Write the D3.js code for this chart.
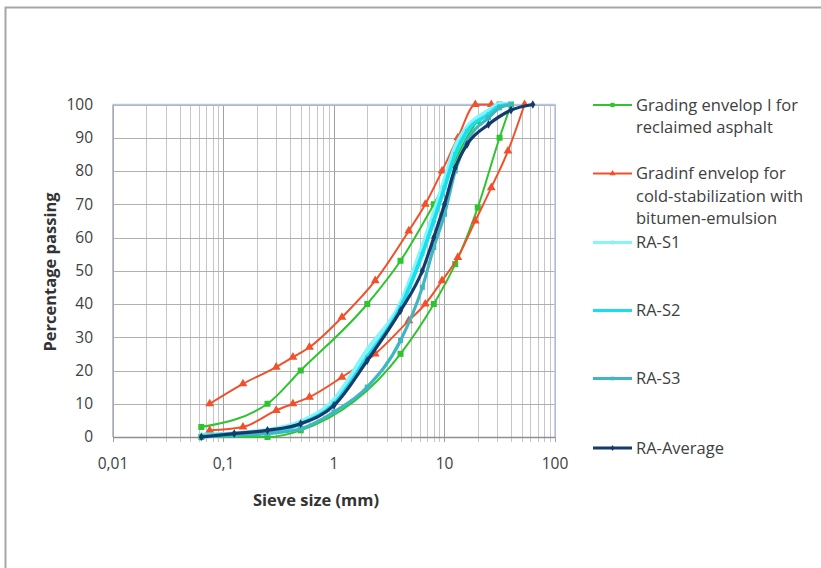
<!DOCTYPE html>
<html>
<head>
<meta charset="utf-8">
<script src="https://cdn.jsdelivr.net/npm/d3@7"></script>
<style>
  body { margin: 0; background: #fff; }
  svg text { font-family: "Open Sans", "Noto Sans", sans-serif; fill: #404040; }
</style>
</head>
<body>
<div id="viz"></div>
<script>
// ---- data ----
let green_up_x = [0.063, 0.25, 0.5, 2, 4, 8, 20, 31.5];
let green_up_y = [3, 10, 20, 40, 53, 70, 95, 100];
let green_lo_x = [0.063, 0.25, 0.5, 4, 8, 12.5, 20, 31.5, 40];
let green_lo_y = [0, 0, 2, 25, 40, 52, 69, 90, 100];

let red_up_x = [0.075, 0.15, 0.3, 0.425, 0.6, 1.18, 2.36, 4.75, 6.7, 9.5, 13.2, 19, 26.5];
let red_up_y = [10, 16, 21, 24, 27, 36, 47, 62, 70, 80, 90, 100, 100];
let red_lo_x = [0.075, 0.15, 0.3, 0.425, 0.6, 1.18, 2.36, 4.75, 6.7, 9.5, 13.2, 19, 26.5, 37.5, 53];
let red_lo_y = [2, 3, 8, 10, 12, 18, 25, 35, 40, 47, 54, 65, 75, 86, 100];

let ra_x = [0.063, 0.125, 0.25, 0.5, 1, 2, 4, 6.3, 8, 10, 12.5, 16, 25, 31.5, 40];
let ra_s1 = [0.5, 1, 2, 4.5, 11, 26, 40, 57, 67, 77, 87, 93, 98, 100, 100];
let ra_s2 = [0.3, 1, 1.5, 4, 10, 24, 39, 55, 65, 75, 85, 92, 97, 99.5, 100];
let ra_s3 = [0, 0.5, 1, 2.5, 7.5, 15, 29, 45, 57, 67, 80, 89, 96, 99, 100];
let avg_x = [0.063, 0.125, 0.25, 0.5, 1, 2, 4, 6.3, 8, 10, 12.5, 16, 25, 40, 63];
let avg_y = [0, 1, 2, 4, 9.5, 23, 38, 50, 60, 70, 81, 88, 94, 98.3, 100];

let x_ticks = [0.01, 0.1, 1, 10, 100];
let x_tick_labels = ["0,01", "0,1", "1", "10", "100"];
let y_ticks = [0, 10, 20, 30, 40, 50, 60, 70, 80, 90, 100];

let series = [
  {name: "env_green", parts: [[green_up_x, green_up_y], [green_lo_x, green_lo_y]], color: "#2ec42e", width: 2, marker: "square", msize: 36},
  {name: "env_red", parts: [[red_up_x, red_up_y], [red_lo_x, red_lo_y]], color: "#f2502a", width: 2, marker: "triangle", msize: 34},
  {name: "s1", parts: [[ra_x, ra_s1]], color: "#85f4fb", width: 5, marker: "diamond", msize: 16},
  {name: "s2", parts: [[ra_x, ra_s2]], color: "#16e0ec", width: 3.8, marker: "square", msize: 18},
  {name: "s3", parts: [[ra_x, ra_s3]], color: "#3fb7c2", width: 3.2, marker: "square", msize: 26},
  {name: "avg", parts: [[avg_x, avg_y]], color: "#163a6b", width: 3.2, marker: "diamond", msize: 22}
];

let legend_items = [
  {lines: ["Grading envelop I for", "reclaimed asphalt"], y: 105, s: 0},
  {lines: ["Gradinf envelop for", "cold-stabilization with", "bitumen-emulsion"], y: 173.5, s: 1},
  {lines: ["RA-S1"], y: 242.5, s: 2},
  {lines: ["RA-S2"], y: 310.5, s: 3},
  {lines: ["RA-S3"], y: 378.5, s: 4},
  {lines: ["RA-Average"], y: 448, s: 5}
];

let W = 821, H = 568;
let plot_left = 113, plot_right = 555, plot_top = 104.5, plot_bottom = 437;

let svg = d3.select("#viz").append("svg").attr("width", W).attr("height", H);

// outer frame (only left and top show in the picture)
svg.append("path")
  .attr("d", "M5.5," + H + " L5.5,7.5 L" + W + ",7.5")
  .attr("fill", "none").attr("stroke", "#a6a6a6").attr("stroke-width", 2);

let x = d3.scaleLog().domain([0.01, 100]).range([plot_left, plot_right]);
let y = d3.scaleLinear().domain([0, 100]).range([plot_bottom, plot_top]);

// vertical grid: minor and decade lines
let minor = [];
for (let d = 0.01; d < 100; d *= 10) {
  for (let k = 1; k <= 9; k++) minor.push(+(d * k).toPrecision(3));
}
minor.push(100);

let grid = svg.append("g");
grid.selectAll(".vg").data(minor).enter().append("line")
  .attr("x1", d => Math.round(x(d)) + 0.5).attr("x2", d => Math.round(x(d)) + 0.5)
  .attr("y1", plot_top).attr("y2", plot_bottom + 5)
  .attr("stroke", d => x_ticks.includes(d) ? "#a0a0a0" : "#c6c6c6")
  .attr("stroke-width", 1);

grid.selectAll(".hg").data(y_ticks).enter().append("line")
  .attr("x1", plot_left).attr("x2", plot_right)
  .attr("y1", d => Math.round(y(d)) + 0.5).attr("y2", d => Math.round(y(d)) + 0.5)
  .attr("stroke", "#b0b0b0").attr("stroke-width", 1);

// plot box: blue on top/right, gray axes on left/bottom
svg.append("path")
  .attr("d", "M" + plot_left + "," + plot_top + " L" + plot_right + "," + plot_top + " L" + plot_right + "," + plot_bottom)
  .attr("fill", "none").attr("stroke", "#b4c6ea").attr("stroke-width", 1.5);
svg.append("line").attr("x1", plot_left).attr("x2", plot_left).attr("y1", plot_top).attr("y2", plot_bottom)
  .attr("stroke", "#a6acb8").attr("stroke-width", 1.5);
svg.append("line").attr("x1", plot_left).attr("x2", plot_right).attr("y1", plot_bottom + 0.5).attr("y2", plot_bottom + 0.5)
  .attr("stroke", "#909090").attr("stroke-width", 1.5);

// tick labels
svg.selectAll(".yl").data(y_ticks).enter().append("text")
  .attr("x", 93).attr("y", d => y(d)).attr("dy", "0.35em")
  .attr("text-anchor", "end").style("font-size", "15.5px")
  .text(d => d);

svg.selectAll(".xl").data(x_ticks).enter().append("text")
  .attr("x", d => x(d)).attr("y", 464).attr("dy", "0.35em")
  .attr("text-anchor", "middle").style("font-size", "15.5px")
  .text((d, i) => x_tick_labels[i]);

svg.append("text")
  .attr("transform", "translate(50,272) rotate(-90)")
  .attr("text-anchor", "middle").attr("dy", "0.35em")
  .style("font-size", "16.5px").style("font-weight", "bold").style("fill", "#333")
  .text("Percentage passing");

svg.append("text")
  .attr("x", 316).attr("y", 500).attr("dy", "0.35em")
  .attr("text-anchor", "middle")
  .style("font-size", "16.5px").style("font-weight", "bold").style("fill", "#333")
  .text("Sieve size (mm)");

// curves
let line = d3.line().x(d => x(d[0])).y(d => y(d[1])).curve(d3.curveMonotoneX);
let symbols = {square: d3.symbolSquare, triangle: d3.symbolTriangle, diamond: d3.symbolDiamond};

series.forEach(function(s){
  let g = svg.append("g").attr("class", "series_" + s.name);
  s.parts.forEach(function(p){
    let pts = p[0].map((v, i) => [v, p[1][i]]);
    g.append("path")
      .attr("d", line(pts))
      .attr("fill", "none")
      .attr("stroke", s.color)
      .attr("stroke-width", s.width)
      .attr("stroke-linejoin", "round");
    g.selectAll(null).data(pts).enter().append("path")
      .attr("transform", d => "translate(" + x(d[0]) + "," + y(d[1]) + ")")
      .attr("d", d3.symbol().type(symbols[s.marker]).size(s.msize))
      .attr("fill", s.color);
  });
});

// legend
let lg = svg.append("g");
legend_items.forEach(function(it){
  let s = series[it.s];
  lg.append("line")
    .attr("x1", 593).attr("x2", 632).attr("y1", it.y).attr("y2", it.y)
    .attr("stroke", s.color).attr("stroke-width", Math.min(s.width, 3));
  lg.append("path")
    .attr("transform", "translate(612.5," + it.y + ")")
    .attr("d", d3.symbol().type(symbols[s.marker]).size(s.msize * 0.5))
    .attr("fill", s.color);
  it.lines.forEach(function(t, i){
    lg.append("text")
      .attr("x", 636).attr("y", it.y + i * 22.5).attr("dy", "0.35em")
      .style("font-size", "16.5px")
      .text(t);
  });
});
</script>
</body>
</html>
